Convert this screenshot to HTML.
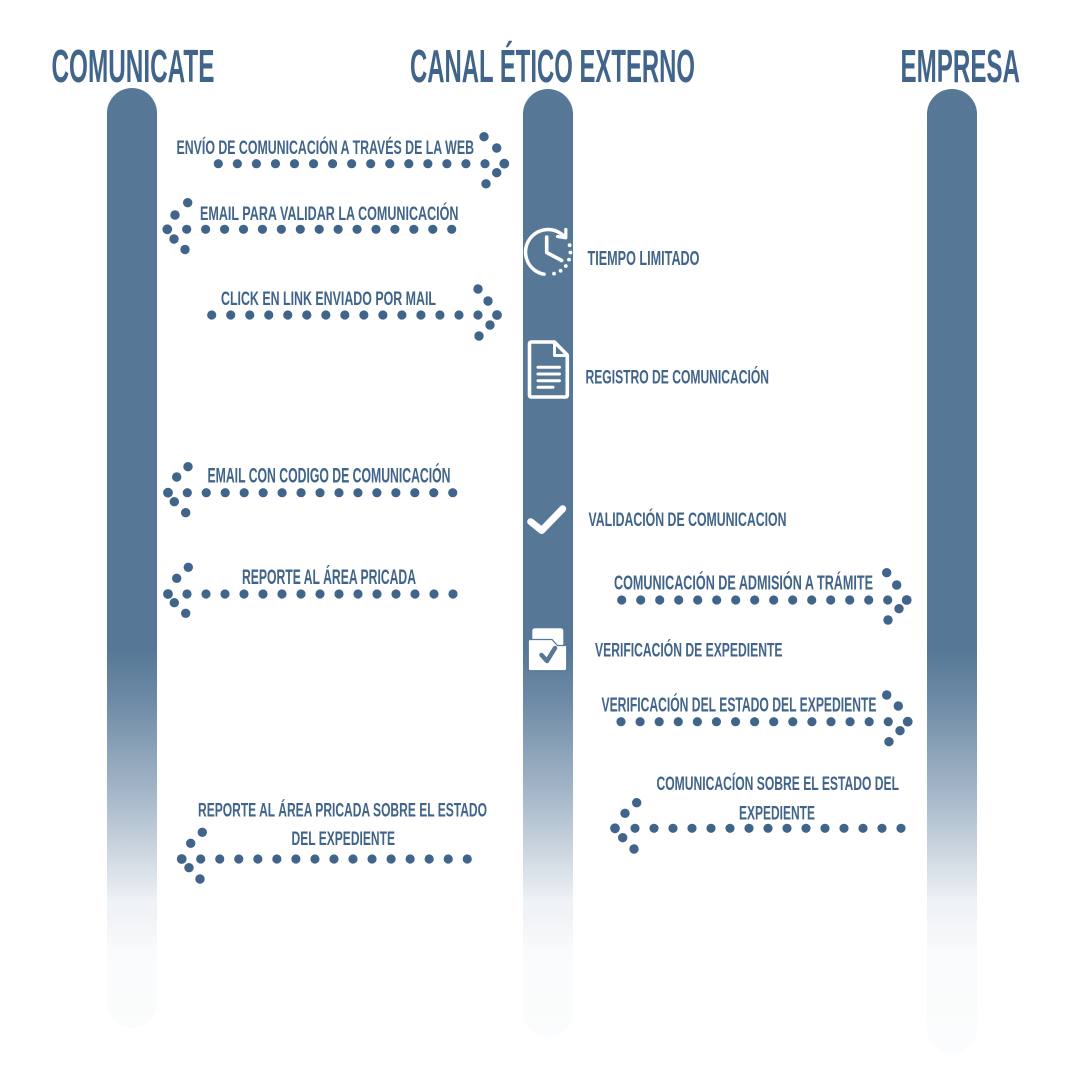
<!DOCTYPE html>
<html><head><meta charset="utf-8"><style>
html,body{margin:0;padding:0;background:#fff;}
svg{display:block;}
text{font-family:"Liberation Sans Narrow","Liberation Sans",sans-serif;font-weight:700;fill:#41648a;}
</style></head><body>
<svg width="1080" height="1080" viewBox="0 0 1080 1080" xmlns="http://www.w3.org/2000/svg">
<defs>
<linearGradient id="bg" gradientUnits="userSpaceOnUse" x1="0" y1="0" x2="0" y2="1060">
<stop offset="0" stop-color="#567896"/>
<stop offset="0.613" stop-color="#567896"/>
<stop offset="0.66" stop-color="#6d8aa5"/>
<stop offset="0.755" stop-color="#a9bacb"/>
<stop offset="0.85" stop-color="#eef1f5"/>
<stop offset="0.905" stop-color="#fafbfc"/>
<stop offset="1" stop-color="#fbfcfd"/>
</linearGradient>
</defs>
<rect width="1080" height="1080" fill="#fff"/>

<!-- bars -->
<rect x="107" y="88" width="50" height="940" rx="25" fill="url(#bg)"/>
<rect x="523" y="89" width="50" height="948" rx="25" fill="url(#bg)"/>
<rect x="927" y="89" width="50" height="964" rx="25" fill="url(#bg)"/>

<!-- headers -->
<text x="51.5" y="82" font-size="46" textLength="163" lengthAdjust="spacingAndGlyphs">COMUNICATE</text>
<text x="410" y="82" font-size="46" textLength="285" lengthAdjust="spacingAndGlyphs">CANAL ÉTICO EXTERNO</text>
<text x="900.5" y="82" font-size="46" textLength="119.5" lengthAdjust="spacingAndGlyphs">EMPRESA</text>

<!-- labels -->
<text x="176.5" y="154" font-size="19.5" textLength="297.5" lengthAdjust="spacingAndGlyphs">ENVÍO DE COMUNICACIÓN A TRAVÉS DE LA WEB</text>
<text x="200" y="220" font-size="19.5" textLength="258.5" lengthAdjust="spacingAndGlyphs">EMAIL PARA VALIDAR LA COMUNICACIÓN</text>
<text x="587.5" y="265" font-size="20.5" textLength="112" lengthAdjust="spacingAndGlyphs">TIEMPO LIMITADO</text>
<text x="221" y="305" font-size="19.7" textLength="215" lengthAdjust="spacingAndGlyphs">CLICK EN LINK ENVIADO POR MAIL</text>
<text x="585.5" y="383.3" font-size="19.5" textLength="183.5" lengthAdjust="spacingAndGlyphs">REGISTRO DE COMUNICACIÓN</text>
<text x="207.5" y="482.7" font-size="21" textLength="243" lengthAdjust="spacingAndGlyphs">EMAIL CON CODIGO DE COMUNICACIÓN</text>
<text x="588.5" y="526" font-size="19.7" textLength="198" lengthAdjust="spacingAndGlyphs">VALIDACIÓN DE COMUNICACION</text>
<text x="242" y="584" font-size="21" textLength="174" lengthAdjust="spacingAndGlyphs">REPORTE AL ÁREA PRICADA</text>
<text x="614" y="589.3" font-size="20.5" textLength="259" lengthAdjust="spacingAndGlyphs">COMUNICACIÓN DE ADMISIÓN A TRÁMITE</text>
<text x="595" y="656.7" font-size="19.5" textLength="187.5" lengthAdjust="spacingAndGlyphs">VERIFICACIÓN DE EXPEDIENTE</text>
<text x="601.5" y="711.7" font-size="20.5" textLength="275" lengthAdjust="spacingAndGlyphs">VERIFICACIÓN DEL ESTADO DEL EXPEDIENTE</text>
<text x="656.5" y="790" font-size="19.5" textLength="242.5" lengthAdjust="spacingAndGlyphs">COMUNICACÍON SOBRE EL ESTADO DEL</text>
<text x="739" y="819.3" font-size="19.5" textLength="76" lengthAdjust="spacingAndGlyphs">EXPEDIENTE</text>
<text x="198" y="816.7" font-size="19.5" textLength="289" lengthAdjust="spacingAndGlyphs">REPORTE AL ÁREA PRICADA SOBRE EL ESTADO</text>
<text x="291.5" y="845" font-size="19.5" textLength="103.5" lengthAdjust="spacingAndGlyphs">DEL EXPEDIENTE</text>

<!-- dotted arrow lines -->
<g stroke="#41648a" stroke-width="9.2" stroke-linecap="round" fill="none">
<line x1="218.3" y1="163.7" x2="485.5" y2="163.7" stroke-dasharray="0 19.05"/>
<line x1="186.7" y1="229.3" x2="452.2" y2="229.3" stroke-dasharray="0 18.93"/>
<line x1="211.7" y1="315" x2="478.5" y2="315" stroke-dasharray="0 19.02"/>
<line x1="187.3" y1="492.7" x2="453.2" y2="492.7" stroke-dasharray="0 18.96"/>
<line x1="187" y1="594" x2="453.5" y2="594" stroke-dasharray="0 19"/>
<line x1="621.7" y1="600" x2="888.2" y2="600" stroke-dasharray="0 19"/>
<line x1="621" y1="721.7" x2="888.8" y2="721.7" stroke-dasharray="0 19.09"/>
<line x1="635" y1="828.3" x2="901.5" y2="828.3" stroke-dasharray="0 19"/>
<line x1="200.7" y1="859" x2="467.8" y2="859" stroke-dasharray="0 19.04"/>
</g>

<!-- arrow heads -->
<g fill="#41648a">
<circle cx="484" cy="136.7" r="4.7"/><circle cx="496.7" cy="148" r="4.7"/><circle cx="504.3" cy="163.7" r="4.9"/><circle cx="496.7" cy="172.7" r="4.7"/><circle cx="486" cy="183.8" r="4.7"/>
<circle cx="187.7" cy="202.7" r="4.7"/><circle cx="175" cy="215" r="4.7"/><circle cx="167.3" cy="229.3" r="4.9"/><circle cx="174" cy="239" r="4.7"/><circle cx="185" cy="249.5" r="4.7"/>
<circle cx="478" cy="289" r="4.7"/><circle cx="488" cy="301" r="4.7"/><circle cx="497" cy="315" r="4.9"/><circle cx="490" cy="325" r="4.7"/><circle cx="479" cy="336" r="4.7"/>
<circle cx="188" cy="466.7" r="4.7"/><circle cx="176.7" cy="477" r="4.7"/><circle cx="168" cy="492.7" r="4.9"/><circle cx="174.3" cy="501.7" r="4.7"/><circle cx="185.7" cy="512.7" r="4.7"/>
<circle cx="188.3" cy="567.3" r="4.7"/><circle cx="176.7" cy="578.3" r="4.7"/><circle cx="168" cy="594" r="4.9"/><circle cx="174.3" cy="602.7" r="4.7"/><circle cx="185.7" cy="613.3" r="4.7"/>
<circle cx="886.7" cy="572.7" r="4.7"/><circle cx="896.7" cy="585" r="4.7"/><circle cx="906.7" cy="600" r="4.9"/><circle cx="899" cy="608.7" r="4.7"/><circle cx="888" cy="620" r="4.7"/>
<circle cx="886.7" cy="695" r="4.7"/><circle cx="898.3" cy="706" r="4.7"/><circle cx="907.7" cy="721.7" r="4.9"/><circle cx="900" cy="730.7" r="4.7"/><circle cx="889" cy="741.7" r="4.7"/>
<circle cx="636.7" cy="802.7" r="4.7"/><circle cx="625" cy="813.3" r="4.7"/><circle cx="615" cy="828.3" r="4.9"/><circle cx="622.7" cy="837.7" r="4.7"/><circle cx="634" cy="849" r="4.7"/>
<circle cx="202.3" cy="832.3" r="4.7"/><circle cx="190.7" cy="843.3" r="4.7"/><circle cx="181.7" cy="859" r="4.9"/><circle cx="189" cy="867.7" r="4.7"/><circle cx="200" cy="879" r="4.7"/>
</g>

<!-- clock icon -->
<g stroke="#fff" fill="none" stroke-linecap="round" stroke-linejoin="round">
<path d="M565.2,237.5 A22.5,22.5 0 1 0 544.1,274.2" stroke-width="3.5"/>
<polyline points="565.8,229.5 565.8,237.8 557.6,236.6" stroke-width="3.2"/>
<path d="M546.7,237 V252.5 L561.7,260.5" stroke-width="3.6"/>
</g>
<g fill="#fff">
<circle cx="569.6" cy="245.2" r="1.9"/><circle cx="570.4" cy="252.5" r="1.9"/><circle cx="569" cy="259.6" r="1.9"/><circle cx="565.8" cy="266" r="1.9"/><circle cx="560.6" cy="270.8" r="1.9"/><circle cx="554" cy="273.6" r="1.9"/>
</g>

<!-- document icon -->
<g stroke="#fff" fill="none" stroke-linejoin="round" stroke-linecap="round">
<path d="M531.5,342 H554.5 L567.3,355 V395 Q567.3,397 565.3,397 H531.5 Q529.5,397 529.5,395 V344 Q529.5,342 531.5,342 Z" stroke-width="3.6"/>
<path d="M554.5,343 V355.5 H566.5" stroke-width="3"/>
<path d="M538,367.3 H559.5 M538,374 H559.5 M538,380.7 H559.5 M538,387.3 H553" stroke-width="3"/>
</g>

<!-- check icon -->
<polyline points="530.7,521.7 541.7,530.5 562.7,508.8" stroke="#fff" stroke-width="7" fill="none" stroke-linecap="round" stroke-linejoin="round"/>

<!-- folder icon -->
<rect x="532.3" y="628.3" width="31" height="22" rx="2.5" fill="#fff"/>
<path d="M528.3,641.5 Q528.3,639.5 530.3,639.5 H552 L557.5,645.5 H566.7 V668.7 Q566.7,670.7 564.7,670.7 H530.3 Q528.3,670.7 528.3,668.7 Z" fill="#fff" stroke="#567896" stroke-width="1.2"/>
<polyline points="541.5,655 547,661 555,648" stroke="#567896" stroke-width="4.5" fill="none" stroke-linecap="round" stroke-linejoin="round"/>
</svg>
</body></html>
